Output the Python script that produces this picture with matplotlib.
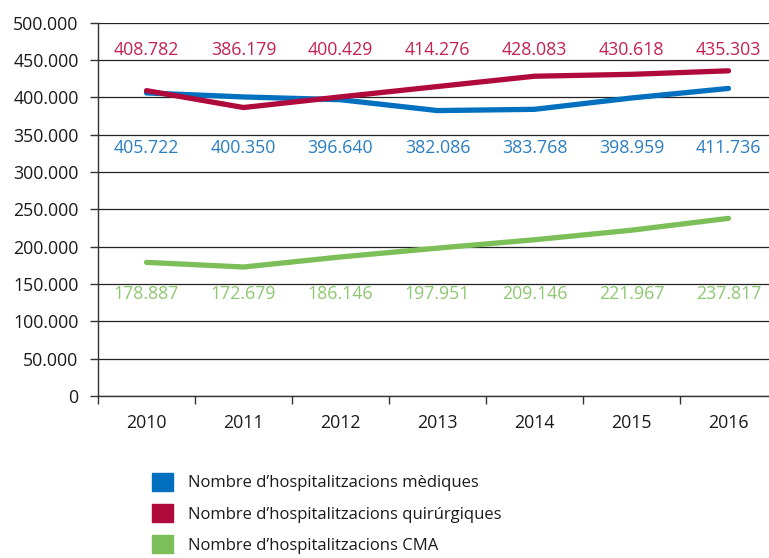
import matplotlib
matplotlib.use('Agg')
import matplotlib.pyplot as plt
from matplotlib.patches import Patch
from matplotlib.ticker import FuncFormatter

######################################################################

years = ['2010', '2011', '2012', '2013', '2014', '2015', '2016']
mediques = [405722, 400350, 396640, 382086, 383768, 398959, 411736]
quirurgiques = [408782, 386179, 400429, 414276, 428083, 430618, 435303]
cma = [178887, 172679, 186146, 197951, 209146, 221967, 237817]

names = ['Nombre d\u2019hospitalitzacions mèdiques',
         'Nombre d\u2019hospitalitzacions quirúrgiques',
         'Nombre d\u2019hospitalitzacions CMA']

######################################################################

plt.rcParams['font.family'] = ['Open Sans', 'DejaVu Sans']

fs = 12.8

fig = plt.figure(figsize = (7.69, 5.58), dpi = 100)
ax = fig.add_axes([98 / 769, 162 / 558, 679 / 769, 373.5 / 558])

x = list(range(len(years)))

# series: values, line colour, text colour, row where the labels sit
series = [
    (mediques, '#0070bf', '#2a7fc4', 332000),
    (quirurgiques, '#b00a3c', '#c42050', 463000),
    (cma, '#7cbf58', '#8dc870', 137000),
]

for values, lc, tc, row in series:
    ax.plot(x, values, color = lc, linewidth = 3.8, solid_capstyle = 'round',
            solid_joinstyle = 'round', zorder = 3)
    for i, v in enumerate(values):
        ax.text(i, row, f'{v:,}'.replace(',', '.'), color = tc, fontsize = fs,
                ha = 'center', va = 'center', zorder = 4)

ax.set_xlim(-0.5, len(years) - 0.5)
ax.set_ylim(0, 500000)
ax.set_yticks(range(0, 500001, 50000))
ax.yaxis.set_major_formatter(FuncFormatter(lambda v, p: f'{int(v):,}'.replace(',', '.')))
ax.set_xticks(x)
ax.set_xticklabels(years)
ax.set_xticks([i - 0.5 for i in range(len(years) + 1)], minor = True)

ax.tick_params(axis = 'x', which = 'major', length = 0, pad = 13, labelsize = fs, colors = '#1a1a1a')
ax.tick_params(axis = 'x', which = 'minor', length = 6, width = 1, color = '#333333')
ax.tick_params(axis = 'y', length = 6, width = 1, color = '#333333', pad = 8,
               labelsize = fs, labelcolor = '#1a1a1a')

ax.grid(axis = 'y', color = '#222222', linewidth = 0.9, zorder = 0)
ax.set_axisbelow(True)
for s in ['top', 'right']:
    ax.spines[s].set_visible(False)
for s in ['left', 'bottom']:
    ax.spines[s].set_color('#333333')
    ax.spines[s].set_linewidth(1)

handles = [Patch(color = c) for _, c, _, _ in series]
fig.legend(handles, names, loc = 'upper left', bbox_to_anchor = (152 / 769, 1 - 473 / 558),
           frameon = False, fontsize = 12, handlelength = 1.26, handleheight = 1.26,
           handletextpad = 0.9, labelspacing = 0.76, borderpad = 0, borderaxespad = 0,
           labelcolor = '#1a1a1a')

fig.savefig('out.png', dpi = 100)
